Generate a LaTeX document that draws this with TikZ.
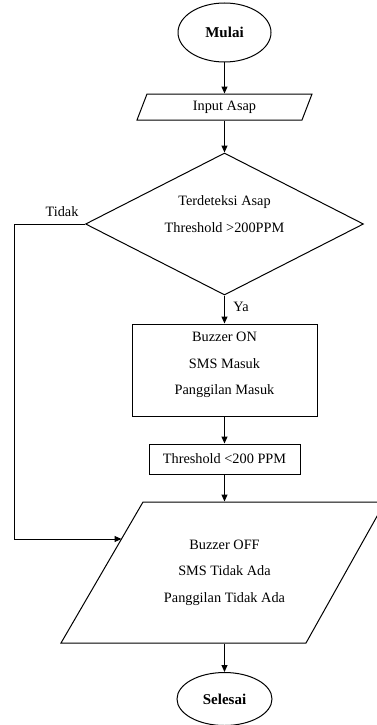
\documentclass[tikz,border=0pt]{standalone}
\usepackage{fontspec}
\setmainfont{Liberation Serif}
\usetikzlibrary{shapes.geometric,arrows.meta}
\begin{document}
\begin{tikzpicture}[x=1pt,y=-1pt,
  line width=1pt,
  txt/.style={font=\fontsize{14.3pt}{26.5pt}\selectfont, align=center, inner sep=0pt},
  term/.style={draw, ellipse, inner sep=0pt, font=\fontsize{15pt}{18pt}\selectfont\bfseries},
  box/.style={draw, rectangle, inner sep=0pt},
  ghost/.style={rectangle, inner sep=0pt, draw=none},
  arr/.style={-{Triangle[length=7pt,width=6pt]}}
]
\useasboundingbox (0,0) rectangle (377,725);

% Mulai
\node[term, minimum width=93pt, minimum height=59pt] (start) at (224.5,32.5) {Mulai};

% Input Asap parallelogram
\draw (147,94) -- (312,94) -- (302,120) -- (137,120) -- cycle;
\node[ghost, minimum width=165pt, minimum height=26pt, txt] (input) at (224.5,107) {Input Asap};

% Decision diamond
\node[draw, diamond, aspect=2, inner sep=0pt, minimum width=278pt, minimum height=142pt] (dec) at (224.5,224) {};
\node[txt] (dectext) at (224.5,214) {Terdeteksi Asap\\Threshold >200PPM};

% Buzzer ON box
\node[box, minimum width=185pt, minimum height=92pt] (on) at (224.5,370) {};
\node[txt] (ontext) at (224.5,365) {Buzzer ON\\SMS Masuk\\Panggilan Masuk};

% Threshold box
\node[box, minimum width=151pt, minimum height=30pt, txt] (thr) at (224.5,459) {Threshold <200 PPM};

% Buzzer OFF parallelogram
\draw (143,502) -- (385,502) -- (306,643) -- (61,643) -- cycle;
\node[ghost, minimum width=160pt, minimum height=141pt, txt] (off) at (224.5,572.5) {Buzzer OFF\\SMS Tidak Ada\\Panggilan Tidak Ada};

% Selesai
\node[term, minimum width=95pt, minimum height=53pt] (end) at (224.5,699) {Selesai};

% connectors
\draw[arr] (start.south) -- (input.north);
\draw[arr] (input.south) -- (dec.north);
\draw[arr] (dec.south) -- (on.north);
\draw[arr] (on.south) -- (thr.north);
\draw[arr] (thr.south) -- (off.north);
\draw[arr] (off.south) -- (end.north);

\coordinate (tk) at (121.5,539);
\coordinate (tl) at (14,224);
\draw[arr] (dec.west) -- (tl) |- (tk);

% labels
\node[txt] (tidak) at (62,212) {Tidak};
\node[txt] (ya) at (241,307) {Ya};
\end{tikzpicture}
\end{document}
